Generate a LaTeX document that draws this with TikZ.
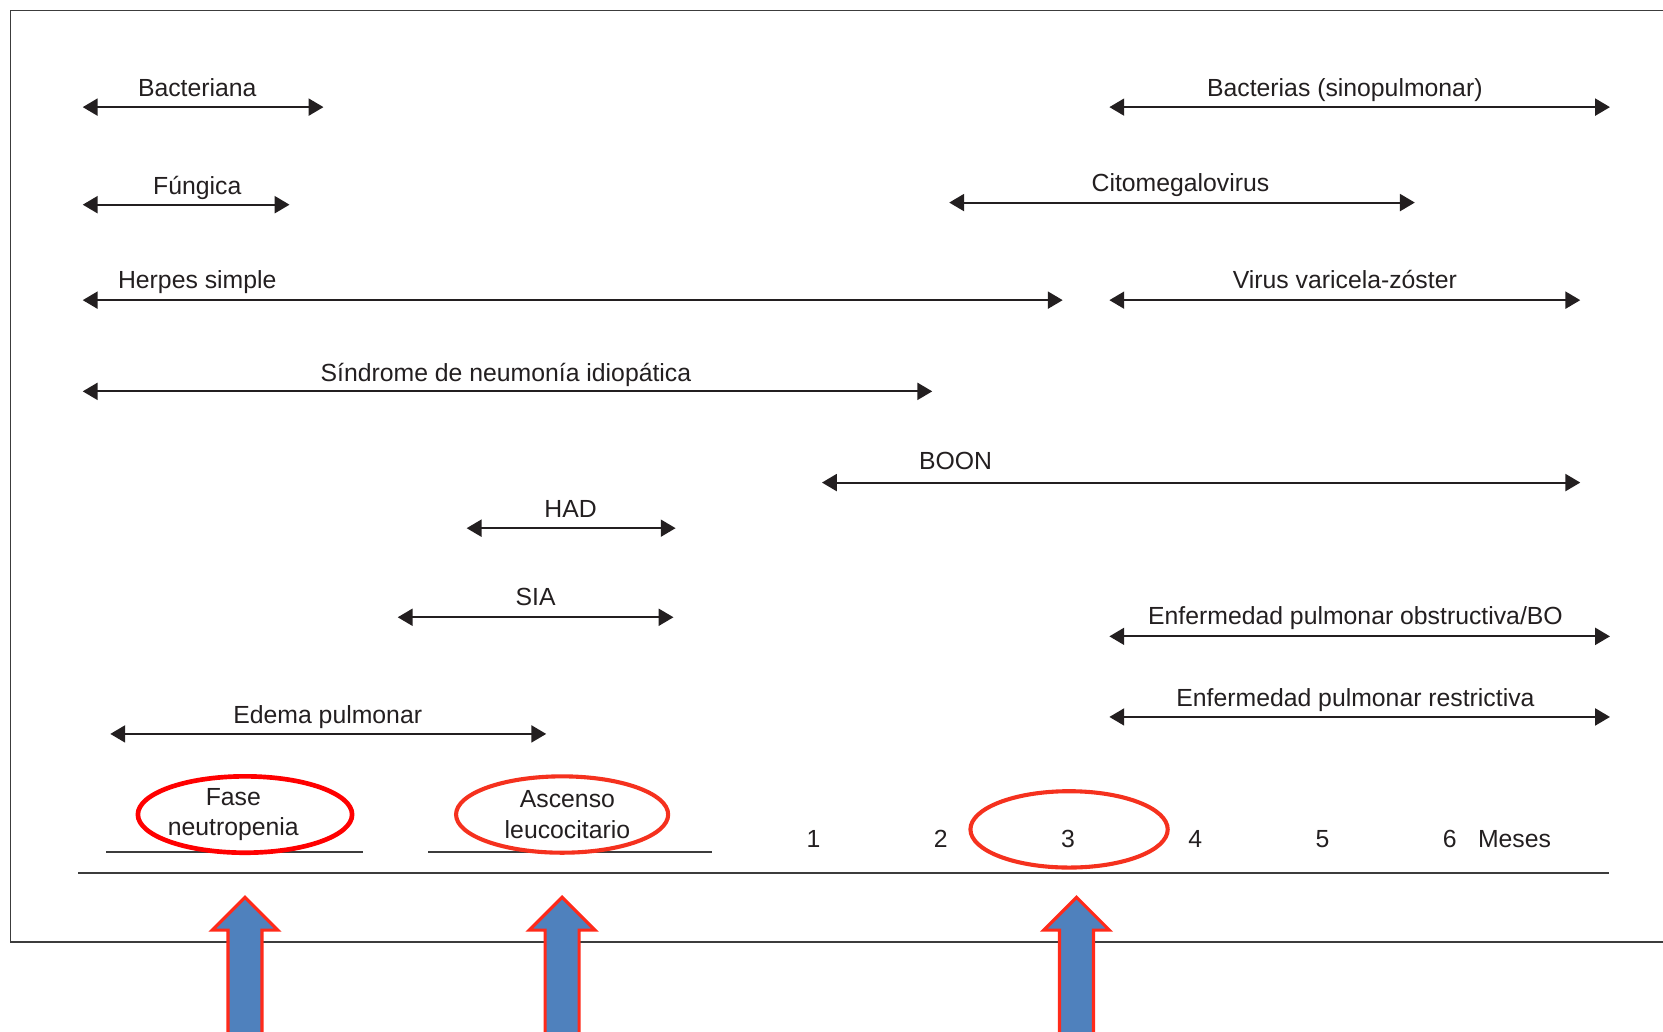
\documentclass[tikz,border=0pt]{standalone}
\usepackage{fontspec}
\setmainfont{Liberation Sans}
\usepackage{xcolor}
\usetikzlibrary{arrows.meta}

\definecolor{txtgray}{HTML}{231F20}
\definecolor{linegray}{HTML}{3C3C3C}
\definecolor{ringred}{HTML}{FF0000}
\definecolor{ringorange}{HTML}{F5311E}
\definecolor{blockblue}{HTML}{4F81BD}
\definecolor{blockred}{HTML}{FF2A1A}

\begin{document}
\begin{tikzpicture}[x=0.02cm, y=-0.02cm,
        >={Triangle[length=0.28cm,width=0.32cm]},
        span/.style={line width=1.1pt, color=txtgray, <->},
        lbl/.style={anchor=base, inner sep=0pt, text=txtgray,
            font=\fontsize{13.3}{16}\selectfont},
        phase/.style={align=center, inner sep=0pt, text=txtgray,
            font=\fontsize{13.3}{16.4}\selectfont},
        ring/.style={line width=2.2pt, color=ringorange},
        block/.style={line width=1.7pt, draw=blockred, fill=blockblue},
        rule/.style={line width=1.1pt, color=linegray}]
                \useasboundingbox (0,0) rectangle (1568,973);
                \draw[line width=0.9pt, color=linegray] (10,10) rectangle (1640,888);

                \node[lbl] (bact) at (186,91) {Bacteriana};
                \coordinate (bactL) at (78,101);
                \coordinate (bactR) at (305,101);
                \draw[span] (bactL) -- (bactR);

                \node[lbl] (bacsp) at (1268,91) {Bacterias (sinopulmonar)};
                \coordinate (bacspL) at (1046,101);
                \coordinate (bacspR) at (1518,101);
                \draw[span] (bacspL) -- (bacspR);

                \node[lbl] (fung) at (186,183) {Fúngica};
                \coordinate (fungL) at (78,193);
                \coordinate (fungR) at (273,193);
                \draw[span] (fungL) -- (fungR);

                \node[lbl] (cmv) at (1113,181) {Citomegalovirus};
                \coordinate (cmvL) at (895,191);
                \coordinate (cmvR) at (1334,191);
                \draw[span] (cmvL) -- (cmvR);

                \node[lbl] (herp) at (186,272) {Herpes simple};
                \coordinate (herpL) at (78,283);
                \coordinate (herpR) at (1002,283);
                \draw[span] (herpL) -- (herpR);

                \node[lbl] (vvz) at (1268,272) {Virus varicela-zóster};
                \coordinate (vvzL) at (1046,283);
                \coordinate (vvzR) at (1490,283);
                \draw[span] (vvzL) -- (vvzR);

                \node[lbl] (snip) at (477,360) {Síndrome de neumonía idiopática};
                \coordinate (snipL) at (78,369);
                \coordinate (snipR) at (879,369);
                \draw[span] (snipL) -- (snipR);

                \node[lbl] (boon) at (901,443) {BOON};
                \coordinate (boonL) at (775,455);
                \coordinate (boonR) at (1490,455);
                \draw[span] (boonL) -- (boonR);

                \node[lbl] (had) at (538,488) {HAD};
                \coordinate (hadL) at (440,498);
                \coordinate (hadR) at (637,498);
                \draw[span] (hadL) -- (hadR);

                \node[lbl] (sia) at (505,571) {SIA};
                \coordinate (siaL) at (375,582);
                \coordinate (siaR) at (635,582);
                \draw[span] (siaL) -- (siaR);

                \node[lbl] (epo) at (1278,589) {Enfermedad pulmonar obstructiva/BO};
                \coordinate (epoL) at (1046,600);
                \coordinate (epoR) at (1518,600);
                \draw[span] (epoL) -- (epoR);

                \node[lbl] (epr) at (1278,666) {Enfermedad pulmonar restrictiva};
                \coordinate (eprL) at (1046,676);
                \coordinate (eprR) at (1518,676);
                \draw[span] (eprL) -- (eprR);

                \node[lbl] (edem) at (309,682) {Edema pulmonar};
                \coordinate (edemL) at (104,692);
                \coordinate (edemR) at (515,692);
                \draw[span] (edemL) -- (edemR);

                % time axis
                \node[phase] (fase) at (220,768) {Fase\\neutropenia};
                \node[phase] (asc) at (535,768) {Ascenso\\leucocitario};
                \draw[rule] (100,803) -- (342,803);
                \draw[rule] (404,803) -- (671,803);
                \node[lbl] (m1) at (767,799) {1};
                \node[lbl] (m2) at (887,799) {2};
                \node[lbl] (m3) at (1007,799) {3};
                \node[lbl] (m4) at (1127,799) {4};
                \node[lbl] (m5) at (1247,799) {5};
                \node[lbl] (m6) at (1367,799) {6};
                \node[lbl] (mes) at (1428,799) {Meses};
                \draw[rule] (74,823) -- (1517,823);

                \draw[ring, color=ringred, line width=2.5pt] (231,768) ellipse [x radius=101, y radius=36];
                \draw[ring] (530,768) ellipse [x radius=100, y radius=36];
                \draw[ring] (1008,782) ellipse [x radius=93, y radius=36];

                \draw[block] (231,846) -- ++(31,31) -- ++(-15,0) -- ++(0,130)
                    -- ++(-32,0) -- ++(0,-130) -- ++(-15,0) -- cycle;
                \draw[block] (530,846) -- ++(31,31) -- ++(-15,0) -- ++(0,130)
                    -- ++(-32,0) -- ++(0,-130) -- ++(-15,0) -- cycle;
                \draw[block] (1015,846) -- ++(31,31) -- ++(-15,0) -- ++(0,130)
                    -- ++(-32,0) -- ++(0,-130) -- ++(-15,0) -- cycle;
            \end{tikzpicture}
\end{document}
